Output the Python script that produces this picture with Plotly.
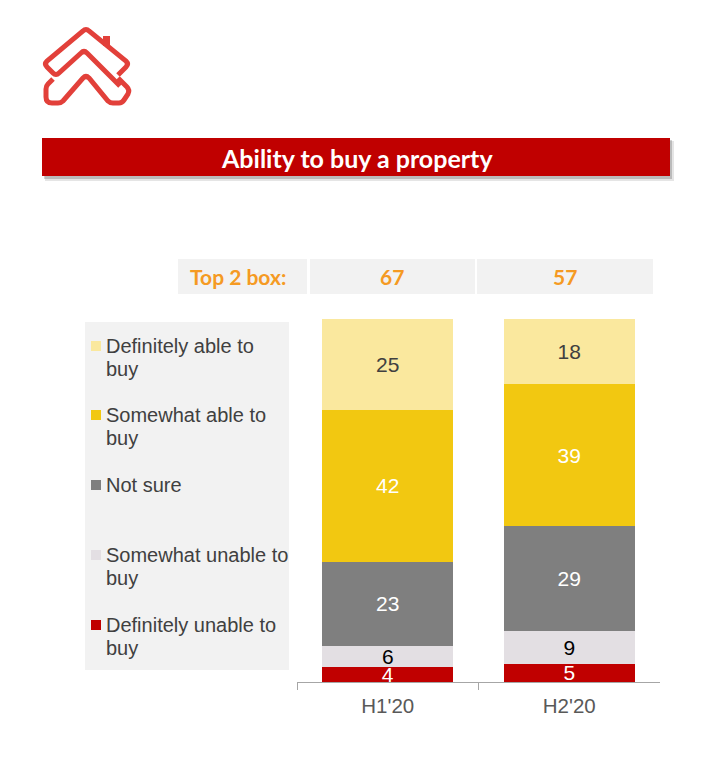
import plotly.graph_objects as go

W, H = 716, 764

# ---------------- data ----------------
periods = ["H1'20", "H2'20"]
series_names = [
    "Definitely unable to buy",
    "Somewhat unable to buy",
    "Not sure",
    "Somewhat able to buy",
    "Definitely able to buy",
]
def_unable = [4, 5]
some_unable = [6, 9]
not_sure = [23, 29]
some_able = [42, 39]
def_able = [25, 18]
series_values = [def_unable, some_unable, not_sure, some_able, def_able]
legend_wrapped = [
    ["Definitely unable to", "buy"],
    ["Somewhat unable to", "buy"],
    ["Not sure"],
    ["Somewhat able to", "buy"],
    ["Definitely able to", "buy"],
]
top2_label = "Top 2 box:"
top2_values = [a + b for a, b in zip(some_able, def_able)]
title_text = "Ability to buy a property"

# ---------------- styles ----------------
series_colors = ["#c00000", "#e3dfe3", "#7f7f7f", "#f2c811", "#fae89e"]
label_colors = ["#ffffff", "#000000", "#ffffff", "#ffffff", "#404040"]
ARIAL = "Liberation Sans, Arial, sans-serif"
CALIBRI = "Lato, Carlito, Calibri, sans-serif"
ORANGE = "#f59a23"


def px(x):
    return x / W


def py(y):
    return 1 - y / H


fig = go.Figure()
for name, vals, col, lcol in zip(series_names, series_values, series_colors, label_colors):
    fig.add_trace(go.Bar(
        x=periods, y=vals, name=name,
        marker=dict(color=col, line=dict(width=0)),
        text=vals, texttemplate="%{text}",
        textposition="inside", insidetextanchor="middle", textangle=0,
        textfont=dict(family=ARIAL, size=21, color=lcol),
        width=0.72, showlegend=False, hoverinfo="skip",
    ))

shapes = []
annotations = []

# ---- logo ----
LOGO = "#e2403a"


def path(cmds):
    out = []
    for c in cmds:
        if isinstance(c, str):
            out.append(c)
        else:
            out.append(f"{px(c[0]):.5f},{py(c[1]):.5f}")
    return " ".join(out)


logo_paths = [
    # outer roof loop joined to the middle chevron on the left
    ["M", (118, 75), "L", (126, 67), "Q", (129, 64), (126, 61), "L", (89, 31), "Q", (86, 28), (83, 31),
     "L", (47, 61), "Q", (44, 64), (47, 67), "L", (53, 73), "Q", (56, 76), (59, 73),
     "L", (81, 53), "Q", (84, 50), (87, 53), "L", (120, 86)],
    # lower W
    ["M", (53, 79), "L", (48, 84), "Q", (46, 86), (46, 89), "L", (46, 97), "Q", (46, 103), (52, 103),
     "L", (58, 103), "Q", (61, 103), (63, 101), "L", (83, 78), "Q", (86, 75), (89, 78),
     "L", (108, 101), "Q", (110, 103), (113, 103), "L", (119, 103), "Q", (122, 103), (124, 100),
     "L", (128, 94), "Q", (130, 90), (127, 87), "L", (118, 78)],
]
for p in logo_paths:
    shapes.append(dict(type="path", xref="paper", yref="paper", path=path(p),
                       line=dict(color=LOGO, width=5), fillcolor="rgba(0,0,0,0)"))
shapes.append(dict(type="rect", xref="paper", yref="paper",
                   x0=px(103), x1=px(110), y0=py(46), y1=py(36),
                   fillcolor=LOGO, line=dict(width=0)))

# ---- title banner with shadow ----
shapes.append(dict(type="rect", xref="paper", yref="paper", x0=px(45), x1=px(674), y0=py(181), y1=py(141),
                   fillcolor="rgba(0,0,0,0.10)", line=dict(width=0)))
shapes.append(dict(type="rect", xref="paper", yref="paper", x0=px(44), x1=px(672), y0=py(179), y1=py(140),
                   fillcolor="rgba(0,0,0,0.18)", line=dict(width=0)))
shapes.append(dict(type="rect", xref="paper", yref="paper", x0=px(42), x1=px(670), y0=py(176), y1=py(138),
                   fillcolor="#c00000", line=dict(width=0)))
annotations.append(dict(text=f"<b>{title_text}</b>", xref="paper", yref="paper", x=px(357), y=py(157.5),
                        xanchor="center", yanchor="middle", showarrow=False,
                        font=dict(family=CALIBRI, size=25, color="white")))

# ---- top 2 box row ----
cells = [(178, 307), (310, 475), (477, 653)]
text_x = [238, 392, 565]
texts = [top2_label] + [str(v) for v in top2_values]
for (x0, x1), tx, t in zip(cells, text_x, texts):
    shapes.append(dict(type="rect", xref="paper", yref="paper", x0=px(x0), x1=px(x1),
                       y0=py(294), y1=py(259), fillcolor="#f2f2f2", line=dict(width=0), layer="below"))
    annotations.append(dict(text=f"<b>{t}</b>", xref="paper", yref="paper", x=px(tx), y=py(277),
                            xanchor="center", yanchor="middle", showarrow=False,
                            font=dict(family=CALIBRI, size=21, color=ORANGE)))

# ---- legend ----
shapes.append(dict(type="rect", xref="paper", yref="paper", x0=px(85), x1=px(289), y0=py(670), y1=py(322),
                   fillcolor="#f2f2f2", line=dict(width=0), layer="below"))
legend_y = [625, 555, 485, 415, 346]
for lines, col, y in zip(legend_wrapped, series_colors, legend_y):
    shapes.append(dict(type="rect", xref="paper", yref="paper", x0=px(91), x1=px(101),
                       y0=py(y + 5), y1=py(y - 5), fillcolor=col, line=dict(width=0)))
    for i, ln in enumerate(lines):
        annotations.append(dict(text=ln, xref="paper", yref="paper", x=px(104), y=py(y + 23 * i),
                                xanchor="left", yanchor="middle", showarrow=False,
                                font=dict(family=ARIAL, size=20, color="#404040")))

fig.update_layout(
    width=W, height=H,
    margin=dict(l=0, r=0, t=0, b=0),
    paper_bgcolor="white", plot_bgcolor="white",
    barmode="stack", bargap=0.28,
    uniformtext=dict(minsize=21, mode="show"),
    shapes=shapes, annotations=annotations,
    xaxis=dict(domain=[px(297), px(660)], range=[-0.5, 1.5], type="category",
               showline=True, linecolor="#a6a6a6", linewidth=1,
               ticks="outside", tickson="boundaries", ticklen=7, tickcolor="#a6a6a6",
               ticklabelstandoff=5,
               tickfont=dict(family=ARIAL, size=20.5, color="#595959"),
               showgrid=False, zeroline=False, fixedrange=True),
    yaxis=dict(domain=[py(682), py(319)], range=[0, 100], visible=False,
               showgrid=False, zeroline=False, fixedrange=True),
    showlegend=False,
)

fig.write_html("out.html")
